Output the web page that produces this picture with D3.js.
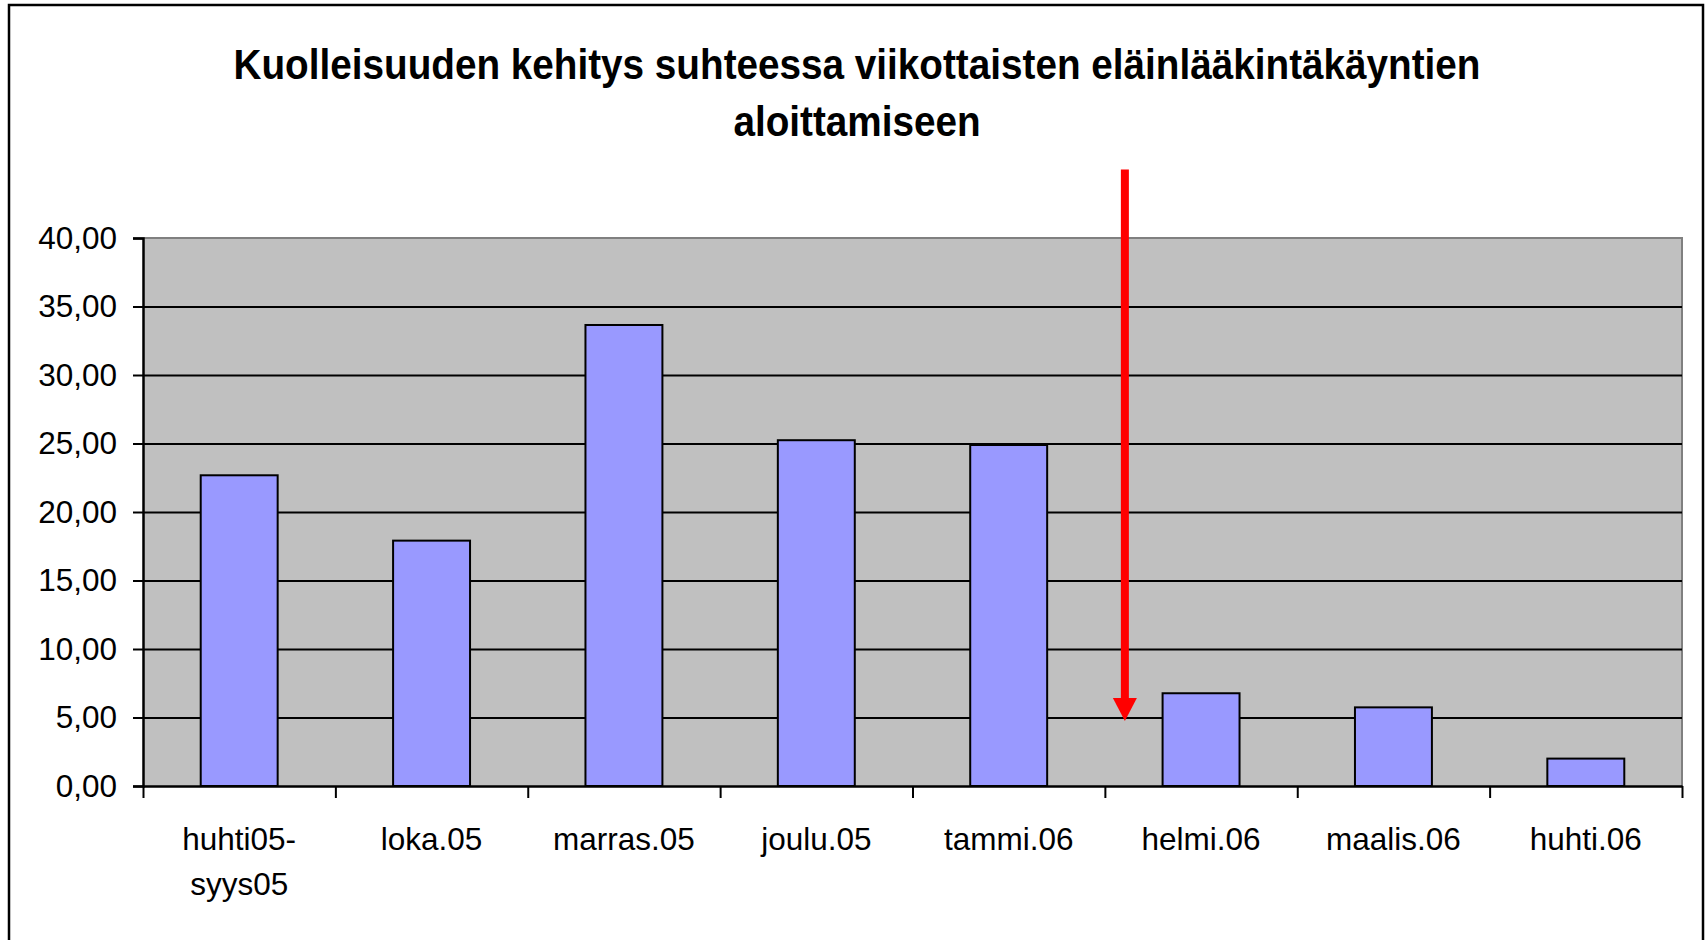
<!DOCTYPE html>
<html>
<head>
<meta charset="utf-8">
<script src="https://cdn.jsdelivr.net/npm/d3@7"></script>
<style>
  body { margin: 0; background: #fff; }
  text { font-family: "Liberation Sans", Arial, sans-serif; fill: #000; }
</style>
</head>
<body>
<div class="chart"></div>
<script>
// Chart data
var titleLines = ["Kuolleisuuden kehitys suhteessa viikottaisten eläinlääkintäkäyntien", "aloittamiseen"];
var categories = ["huhti05-\nsyys05", "loka.05", "marras.05", "joulu.05", "tammi.06", "helmi.06", "maalis.06", "huhti.06"];
var values = [22.68, 17.91, 33.65, 25.24, 24.89, 6.77, 5.74, 2.0];
var yTicks = [0, 5, 10, 15, 20, 25, 30, 35, 40];
// red arrow: starts above the plot, points down just before helmi.06
var arrowCategory = "helmi.06";
var arrowFrom = 45;
var arrowTo = 4.75;

// SVG area
var svgWidth = 1706;
var svgHeight = 940;
var margin = {top: 238, right: 24, bottom: 154, left: 143};
var width = svgWidth - margin.left - margin.right;
var height = svgHeight - margin.top - margin.bottom;

var svg = d3.select(".chart")
  .append("svg")
  .attr("width", svgWidth)
  .attr("height", svgHeight);

// outer chart border
svg.append("rect")
  .attr("x", 9).attr("y", 5)
  .attr("width", 1694).attr("height", 950)
  .attr("fill", "none")
  .attr("stroke", "#000")
  .attr("stroke-width", 2.5);

// title (Excel renders it a bit narrow, hence the x scale)
var title = svg.append("g")
  .attr("transform", "translate(857,0) scale(0.9,1)");
title.selectAll("text")
  .data(titleLines)
  .enter().append("text")
  .attr("x", 0)
  .attr("y", function(d, i) { return 79 + i * 57; })
  .attr("text-anchor", "middle")
  .attr("font-size", "43px")
  .attr("font-weight", "bold")
  .text(function(d) { return d; });

var chart = svg.append("g")
  .attr("transform", "translate(" + margin.left + "," + margin.top + ")");

// scales
var x = d3.scaleBand().domain(categories).range([0, width]).padding(0);
var xIdx = d3.scaleLinear().domain([0, categories.length]).range([0, width]);
var y = d3.scaleLinear().domain([0, 40]).range([height, 0]);

// plot background
chart.append("rect")
  .attr("width", width).attr("height", height)
  .attr("fill", "#c0c0c0");

// plot border top/right
chart.append("path")
  .attr("d", "M0,0H" + width + "V" + height)
  .attr("fill", "none")
  .attr("stroke", "#808080")
  .attr("stroke-width", 2);

// gridlines
chart.append("g")
  .attr("class", "grid")
  .call(d3.axisLeft(y).tickValues(yTicks.slice(1, -1)).tickSize(-width).tickFormat(""))
  .call(function(g) {
    g.select(".domain").remove();
    g.selectAll("line").attr("stroke", "#000").attr("stroke-width", 2);
  });

// bars
var barW = x.step() * 0.4;
chart.selectAll(".bar")
  .data(values)
  .enter().append("rect")
  .attr("class", "bar")
  .attr("x", function(d, i) { return x(categories[i]) + (x.step() - barW) / 2; })
  .attr("y", function(d) { return y(d); })
  .attr("width", barW)
  .attr("height", function(d) { return height - y(d); })
  .attr("fill", "#9999ff")
  .attr("stroke", "#000")
  .attr("stroke-width", 2);

// y axis
var fmt = d3.format(".2f");
chart.append("g")
  .call(d3.axisLeft(y).tickValues(yTicks).tickSize(10).tickPadding(16)
    .tickFormat(function(d) { return fmt(d).replace(".", ","); }))
  .call(function(g) {
    g.select(".domain").attr("stroke", "#000").attr("stroke-width", 2.5);
    g.selectAll("line").attr("stroke", "#000").attr("stroke-width", 2);
    g.selectAll("text")
      .attr("font-size", "31.5px")
      .attr("font-family", "Liberation Sans, Arial, sans-serif")
      .attr("fill", "#000");
  });

// x axis with ticks between categories
chart.append("g")
  .attr("transform", "translate(0," + height + ")")
  .call(d3.axisBottom(xIdx).tickValues(d3.range(categories.length + 1)).tickSize(12)
    .tickSizeOuter(0).tickFormat(""))
  .call(function(g) {
    g.select(".domain").attr("stroke", "#000").attr("stroke-width", 2.5);
    g.selectAll("line").attr("stroke", "#000").attr("stroke-width", 2);
  });

// x labels
var xl = chart.append("g").attr("transform", "translate(0," + height + ")");
xl.selectAll("text")
  .data(categories)
  .enter().append("text")
  .attr("text-anchor", "middle")
  .attr("font-size", "31.5px")
  .each(function(d) {
    var t = d3.select(this);
    d.split("\n").forEach(function(line, i) {
      t.append("tspan")
        .attr("x", x(d) + x.step() / 2)
        .attr("y", 64 + i * 45)
        .text(line);
    });
  });

// red arrow
var ax = x(arrowCategory) + x.step() * 0.104;
var headH = 23, headW = 24;
chart.append("line")
  .attr("x1", ax).attr("x2", ax)
  .attr("y1", y(arrowFrom)).attr("y2", y(arrowTo) - headH + 1)
  .attr("stroke", "#ff0000")
  .attr("stroke-width", 8);
chart.append("path")
  .attr("d", "M" + (ax - headW / 2) + "," + (y(arrowTo) - headH) +
    "L" + (ax + headW / 2) + "," + (y(arrowTo) - headH) +
    "L" + ax + "," + y(arrowTo) + "Z")
  .attr("fill", "#ff0000");
</script>
</body>
</html>
